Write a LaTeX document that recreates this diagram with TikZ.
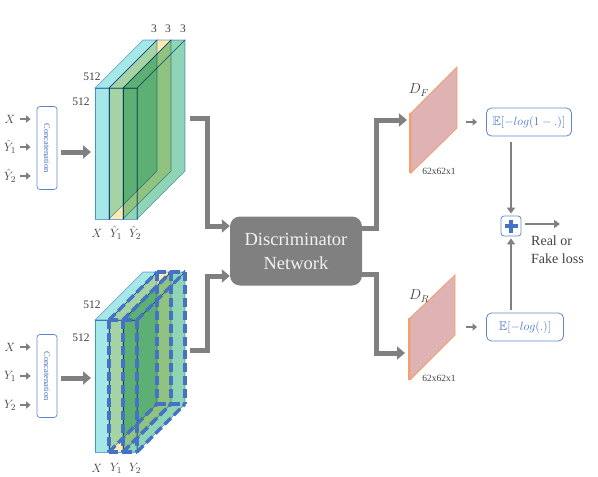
\documentclass[tikz,border=0pt]{standalone}
\usepackage{fontspec}
\setmainfont{Liberation Serif}
\usepackage{amsmath,amssymb}
\usepackage{graphicx}
\usetikzlibrary{arrows.meta,positioning}
\definecolor{arrowgray}{HTML}{808080}
\definecolor{boxblue}{HTML}{4472C4}
\definecolor{labelgray}{HTML}{404040}
\definecolor{slabcyan}{HTML}{A6E7E7}
\definecolor{slabyellow}{HTML}{FFEAB4}
\definecolor{slabgreen}{HTML}{90D4B6}
\definecolor{slabedge}{HTML}{6FA3DA}
\definecolor{planepink}{HTML}{DFB3B3}
\definecolor{planeedge}{HTML}{F4A06C}
\tikzset{
  bigarrow/.style={line width=5pt,arrowgray,-{Triangle[length=8pt,width=13pt]}},
  midarrow/.style={line width=2.4pt,arrowgray,-{Triangle[length=6pt,width=8pt]}},
  thinarrow/.style={line width=2.2pt,arrowgray,-{Triangle[length=4.5pt,width=7pt]}},
  concatbox/.style={draw=boxblue!85,rounded corners=3pt,line width=0.7pt,
    minimum width=20pt,minimum height=83pt,inner sep=0pt,text=boxblue},
  lossbox/.style={draw=boxblue!85,rounded corners=5pt,line width=0.8pt,
    text=boxblue,minimum height=28pt,inner sep=2pt,font=\fontsize{12.5}{14}\selectfont},
  dimlabel/.style={text=labelgray,inner sep=0.5pt,font=\fontsize{11.5}{13}\selectfont},
  chanlabel/.style={text=labelgray,inner sep=0pt,font=\fontsize{12.5}{14}\selectfont},
  sizelabel/.style={text=labelgray,inner sep=0.5pt,font=\fontsize{9.5}{11}\selectfont},
  slabface/.style={fill=#1,draw=slabedge,line width=0.6pt},
  dashslab/.style={draw=boxblue,line width=3.4pt,dash pattern=on 9pt off 4pt}
}

\begin{document}
\begin{tikzpicture}[x=1pt,y=-1pt]
  \useasboundingbox (0,0) rectangle (598,477);

  % ---- top input: X, Yhat1, Yhat2
  \begin{scope}[blend mode=multiply]
  \foreach \xa/\xb/\col in {95/109/slabcyan,109/123/slabyellow,123/137/slabgreen}{
    \draw[slabface=\col] (\xb,88) -- (\xb+48,40) -- (\xb+48,171) -- (\xb,219) -- cycle;
    \draw[slabface=\col] (\xa,88) -- (\xb,88) -- (\xb+48,40) -- (\xa+48,40) -- cycle;
    \draw[slabface=\col] (\xa,88) rectangle (\xb,219);
  }
  \end{scope}
  \node[dimlabel] (topC1) at (154,29) {3};
  \node[dimlabel] (topC2) at (168,29) {3};
  \node[dimlabel] (topC3) at (183,29) {3};
  \node[dimlabel] (topH) at (92,77) {512};
  \node[dimlabel] (topW) at (81,102) {512};
  \node[chanlabel] at (97,233) {$X$};
  \node[chanlabel] at (116,233) {$\hat{Y}_1$};
  \node[chanlabel] at (135,233) {$\hat{Y}_2$};

  \node[concatbox] (catF) at (47,148)
    {\rotatebox{-90}{\fontsize{8.5}{10}\selectfont Concatenation}};
  \node[chanlabel] (inFa) at (10,119) {$X$};
  \node[chanlabel] (inFb) at (10,147) {$\hat{Y}_1$};
  \node[chanlabel] (inFc) at (10,176) {$\hat{Y}_2$};
  \foreach \n in {inFa,inFb,inFc}
    \draw[thinarrow] (\n.east) ++(4,0) -- ([xshift=-6pt]catF.west |- \n);
  \coordinate (fakein) at (91,152);
  \draw[bigarrow] ([xshift=4pt]catF.east |- fakein) -- (fakein);

  % ---- bottom input: X, Y1, Y2
  \begin{scope}[blend mode=multiply]
  \foreach \xa/\xb/\col in {95/109/slabcyan,109/123/slabyellow,123/137/slabgreen}{
    \draw[slabface=\col] (\xb,320) -- (\xb+48,272) -- (\xb+48,404) -- (\xb,452) -- cycle;
    \draw[slabface=\col] (\xa,320) -- (\xb,320) -- (\xb+48,272) -- (\xa+48,272) -- cycle;
    \draw[slabface=\col] (\xa,320) rectangle (\xb,452);
  }
  \end{scope}
  \foreach \xa/\xb in {109/123,123/137}{
    \foreach \dx/\dy in {0/0,48/-48}{
      \draw[dashslab] (\xa+\dx,320+\dy) -- (\xb+\dx,320+\dy);
      \draw[dashslab] (\xa+\dx,452+\dy) -- (\xb+\dx,452+\dy);
      \draw[dashslab] (\xa+\dx,320+\dy) -- (\xa+\dx,452+\dy);
      \draw[dashslab] (\xb+\dx,320+\dy) -- (\xb+\dx,452+\dy);
    }
    \foreach \xx in {\xa,\xb}
      \draw[dashslab] (\xx,320) -- (\xx+48,272) (\xx,452) -- (\xx+48,404);
  }
  \node[dimlabel] (botH) at (92,305) {512};
  \node[dimlabel] (botW) at (81,338) {512};
  \node[chanlabel] at (97,468) {$X$};
  \node[chanlabel] at (116,468) {$Y_1$};
  \node[chanlabel] at (135,468) {$Y_2$};

  \node[concatbox] (catR) at (47,376)
    {\rotatebox{-90}{\fontsize{8.5}{10}\selectfont Concatenation}};
  \node[chanlabel] (inRa) at (10,347) {$X$};
  \node[chanlabel] (inRb) at (10,376) {$Y_1$};
  \node[chanlabel] (inRc) at (10,405) {$Y_2$};
  \foreach \n in {inRa,inRb,inRc}
    \draw[thinarrow] (\n.east) ++(4,0) -- ([xshift=-6pt]catR.west |- \n);
  \coordinate (realin) at (91,378);
  \draw[bigarrow] ([xshift=4pt]catR.east |- realin) -- (realin);

  % ---- discriminator
  \node[fill=arrowgray,rounded corners=10pt,minimum width=132pt,minimum height=69pt,
    text=white!95!black,align=center,font=\fontsize{18.5}{24}\selectfont] (disc) at (296,251)
    {Discriminator\\Network};
  \coordinate (fakeout) at (190,118);
  \coordinate (realout) at (190,350);
  \draw[bigarrow] (fakeout) -- ++(17,0) |- ([yshift=25pt]disc.west);
  \draw[bigarrow] (realout) -- ++(17,0) |- ([yshift=-25pt]disc.west);

  % ---- output maps
  \coordinate (dfin) at (407,120);
  \coordinate (drin) at (405,353);
  \draw[bigarrow] ([yshift=23pt]disc.east) -- ++(14,0) |- (dfin);
  \draw[bigarrow] ([yshift=-23pt]disc.east) -- ++(14,0) |- (drin);
  \fill[planepink] (411,113) -- (457,67) -- (457,128) -- (411,173) -- cycle;
  \draw[planeedge,line width=0.8pt] (411,113) -- (457,67) -- (457,128) -- (411,173) -- cycle;
  \draw[planeedge,line width=2.4pt] (410,113) -- (410,173);
  \fill[planepink] (410,318) -- (455,275) -- (455,335) -- (410,380) -- cycle;
  \draw[planeedge,line width=0.8pt] (410,318) -- (455,275) -- (455,335) -- (410,380) -- cycle;
  \draw[planeedge,line width=2.4pt] (409,318) -- (409,380);
  \node[chanlabel,font=\fontsize{14}{16}\selectfont] (dF) at (419,90) {$D_F$};
  \node[chanlabel,font=\fontsize{14}{16}\selectfont] (dR) at (419,296) {$D_R$};
  \node[sizelabel] at (439,171) {62x62x1};
  \node[sizelabel] at (439,378) {62x62x1};

  % ---- losses
  \node[lossbox,minimum width=85pt] (lossF) at (529,122) {$\mathbb{E}[-log(1-.)]$};
  \node[lossbox,minimum width=77pt] (lossR) at (525,327) {$\mathbb{E}[-log(.)]$};
  \draw[thinarrow] ([xshift=-20pt]lossF.west) -- ([xshift=-9pt]lossF.west);
  \draw[thinarrow] ([xshift=-20pt]lossR.west) -- ([xshift=-9pt]lossR.west);
  \node[draw=boxblue!85,rounded corners=3pt,line width=0.8pt,minimum size=20pt] (plus) at (511,226) {};
  \draw[boxblue,line width=3.6pt] ([xshift=-6.5pt]plus.center) -- ([xshift=6.5pt]plus.center)
    ([yshift=-6.5pt]plus.center) -- ([yshift=6.5pt]plus.center);
  \draw[midarrow] (plus |- lossF.south) ++(0,6) -- ([yshift=2pt]plus.north);
  \draw[midarrow] (plus |- lossR.north) ++(0,-3) -- ([yshift=-2pt]plus.south);
  \coordinate (lossout) at (560,224);
  \draw[midarrow] ([xshift=4pt]plus.east |- lossout) -- (lossout);
  \node[text=labelgray,align=left,inner sep=0pt,font=\fontsize{14}{17.5}\selectfont,anchor=north west]
    (result) at (531,236) {Real or\\Fake loss};
\end{tikzpicture}
\end{document}
